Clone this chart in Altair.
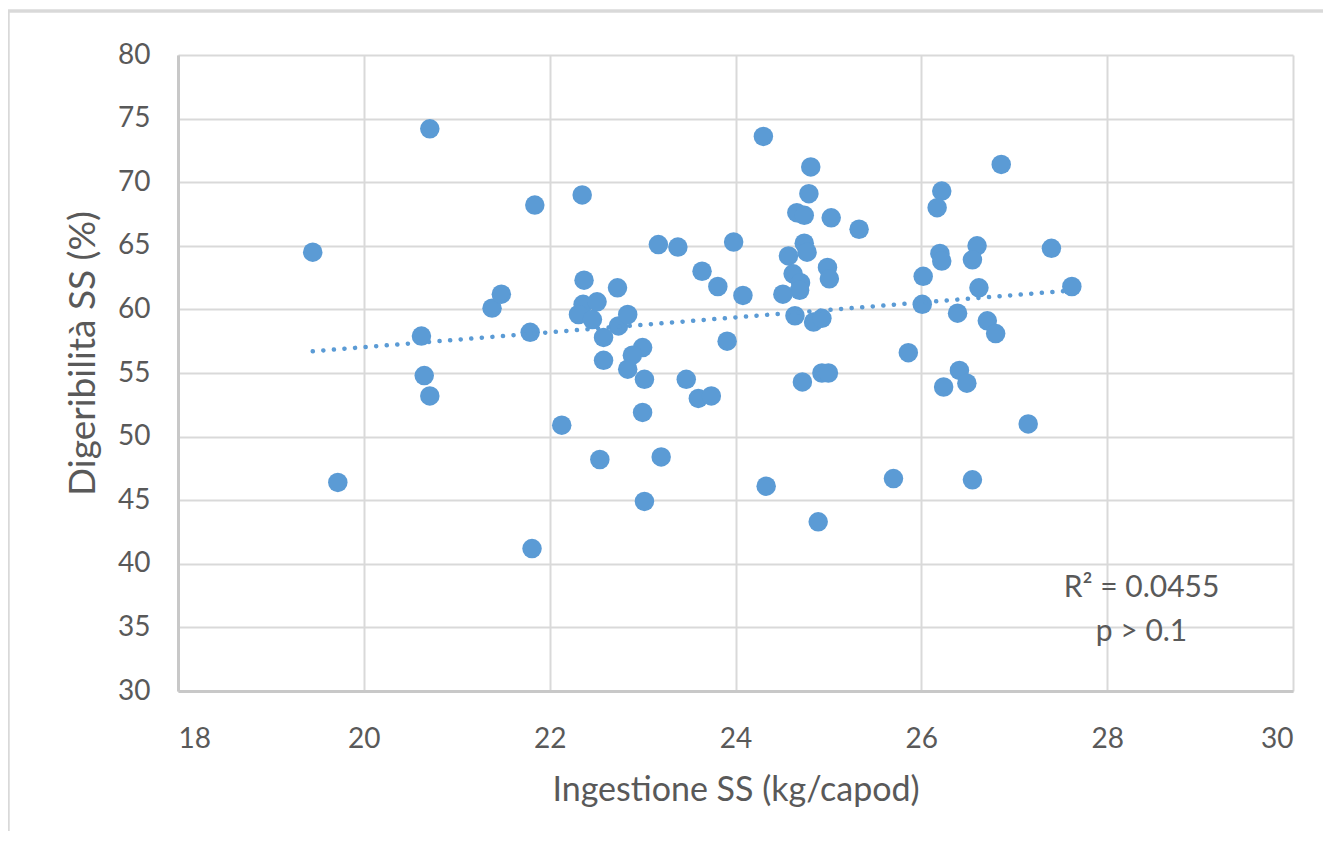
import altair as alt
import pandas as pd

ingestione = [19.45, 19.72, 20.71, 20.62, 20.65, 20.71, 21.38, 21.48, 21.79, 21.84,
              21.81, 22.13, 22.35, 22.37, 22.73, 22.36, 22.51, 22.31, 22.46, 22.58,
              22.58, 22.74, 22.84, 23.00, 22.89, 22.84, 23.02, 23.00, 22.54, 23.20,
              23.02, 23.17, 23.38, 23.64, 23.81, 24.08, 23.98, 23.91, 23.47, 23.60,
              23.74, 24.30, 24.33, 24.81, 24.79, 24.66, 24.74, 25.03, 25.33, 24.74,
              24.77, 24.57, 24.62, 24.70, 24.69, 24.51, 24.99, 25.01, 24.64, 24.84,
              24.93, 24.72, 24.93, 25.00, 24.89, 25.70, 25.86, 26.02, 26.01, 26.86,
              26.22, 26.17, 26.20, 26.22, 26.60, 26.55, 27.40, 26.62, 27.62, 26.39,
              26.71, 26.80, 26.41, 26.49, 26.24, 27.15, 26.55]
digeribilita = [64.5, 46.4, 74.2, 57.9, 54.8, 53.2, 60.1, 61.2, 58.2, 68.2,
                41.2, 50.9, 69.0, 62.3, 61.7, 60.4, 60.6, 59.6, 59.2, 57.8,
                56.0, 58.7, 59.6, 57.0, 56.4, 55.3, 54.5, 51.9, 48.2, 48.4,
                44.9, 65.1, 64.9, 63.0, 61.8, 61.1, 65.3, 57.5, 54.5, 53.0,
                53.2, 73.6, 46.1, 71.2, 69.1, 67.6, 67.4, 67.2, 66.3, 65.2,
                64.5, 64.2, 62.8, 62.1, 61.5, 61.2, 63.3, 62.4, 59.5, 59.0,
                59.3, 54.3, 55.0, 55.0, 43.3, 46.7, 56.6, 62.6, 60.4, 71.4,
                69.3, 68.0, 64.4, 63.8, 65.0, 63.9, 64.8, 61.7, 61.8, 59.7,
                59.1, 58.1, 55.2, 54.2, 53.9, 51.0, 46.6]

ann_x = [28.37, 28.37]
ann_y = [38.1, 34.6]
ann_text = ["R² = 0.0455", "p > 0.1"]

df = pd.DataFrame({"x": ingestione, "y": digeribilita})
ann = pd.DataFrame({"x": ann_x, "y": ann_y, "t": ann_text})

FONT = "Lato"
GRAY = "#595959"
BLUE = "#5b9bd5"

xs = alt.Scale(domain=[18, 30], nice=False, zero=False)
ys = alt.Scale(domain=[30, 80], nice=False, zero=False)

xax = alt.Axis(values=[18, 20, 22, 24, 26, 28, 30], format="d",
               title="Ingestione SS (kg/capod)",
               labelPadding=34, titlePadding=20, grid=True, titleFontSize=34)
yax = alt.Axis(values=list(range(30, 81, 5)), format="d", title="Digeribilità SS (%)",
               labelPadding=28, grid=True, titleAngle=-90, titleX=-84, titleY=298,
               titleAlign="center", titleBaseline="alphabetic", titleFontSize=37)

base = alt.Chart(df)

points = base.mark_circle(size=380, color=BLUE, opacity=1).encode(
    x=alt.X("x:Q", scale=xs, axis=xax),
    y=alt.Y("y:Q", scale=ys, axis=yax),
)

trend = base.transform_regression("x", "y").mark_line(
    color=BLUE, strokeWidth=4.5, strokeDash=[0.1, 10.5], strokeCap="round"
).encode(x=alt.X("x:Q", scale=xs), y=alt.Y("y:Q", scale=ys))

text = alt.Chart(ann).mark_text(font=FONT, fontSize=30, color=GRAY, align="center",
                                baseline="middle").encode(
    x=alt.X("x:Q", scale=xs), y=alt.Y("y:Q", scale=ys), text="t:N")

border_top = alt.Chart(ann).mark_rule(color="#d9d9d9", strokeWidth=3).encode(
    x=alt.value(-170), x2=alt.value(1200), y=alt.value(-44))
border_left = alt.Chart(ann).mark_rule(color="#d9d9d9", strokeWidth=3).encode(
    x=alt.value(-170), y=alt.value(-44), y2=alt.value(820))

chart = alt.layer(border_top, border_left, points, trend, text).properties(
    width=1115, height=636,
    autosize="none",
    padding={"left": 170, "top": 47, "right": 30, "bottom": 140},
).configure_axis(
    labelFont=FONT, labelFontSize=28, labelColor=GRAY,
    titleFont=FONT, titleFontSize=32, titleColor=GRAY, titleFontWeight="normal",
    gridColor="#d9d9d9", gridWidth=2, domainColor="#c8c8c8", domainWidth=3,
    ticks=False,
).configure_view(strokeWidth=0)

chart.save("out.html", embed_options={"renderer": "svg", "actions": False})
